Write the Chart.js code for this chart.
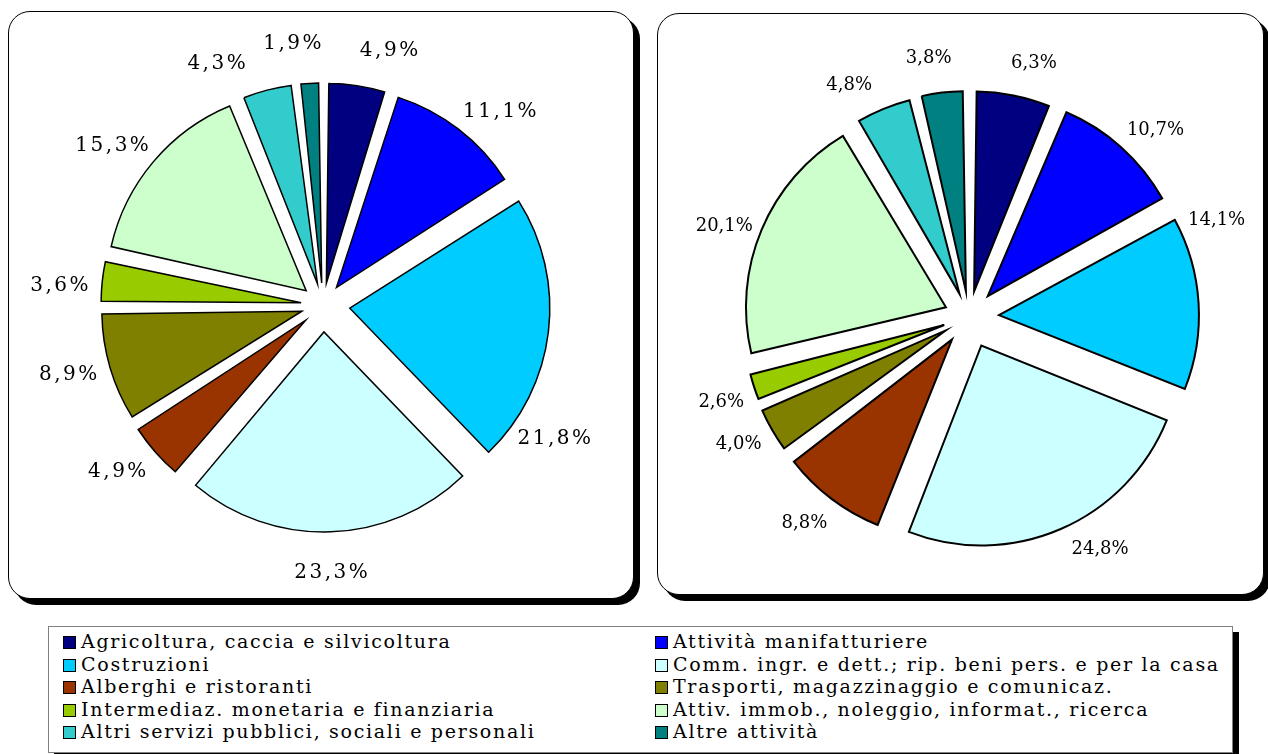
<!DOCTYPE html>
<html>
<head>
<meta charset="utf-8">
<script src="https://cdn.jsdelivr.net/npm/chart.js@4"></script>
<style>
  body { margin: 0; background: #fff; width: 1268px; height: 754px; overflow: hidden; position: relative; font-family: "DejaVu Serif", serif; }
  .box { position: absolute; background: #fff; border: 1.5px solid #000; border-radius: 22px; box-shadow: 6px 6px 0 #000; box-sizing: border-box; }
  canvas { position: absolute; }
  #legend { position: absolute; left: 48px; top: 626px; width: 1185px; height: 127px; border: 1px solid #808080; box-sizing: border-box; background: #fff; box-shadow: 6px 6px 0 #000; }
  .item { position: absolute; font-size: 19px; letter-spacing: 1.7px; line-height: 22px; white-space: nowrap; color: #000; }
  .sw { display: inline-block; width: 11px; height: 11px; border: 1.5px solid #000; margin-right: 5px; vertical-align: -1px; }
</style>
</head>
<body>
<div class="box" style="left:8px; top:11px; width:626px; height:588px;"></div>
<div class="box" style="left:657px; top:13px; width:607px; height:582px;"></div>
<canvas id="pieLeft" width="600" height="580" style="left:23px; top:15px;"></canvas>
<canvas id="pieRight" width="590" height="580" style="left:674px; top:27px;"></canvas>
<div id="legend"></div>

<script>
// Sectors (legend order, clockwise from 12 o'clock)
const sectors = [
  'Agricoltura, caccia e silvicoltura',
  'Attività manifatturiere',
  'Costruzioni',
  'Comm. ingr. e dett.; rip. beni pers. e per la casa',
  'Alberghi e ristoranti',
  'Trasporti, magazzinaggio e comunicaz.',
  'Intermediaz. monetaria e finanziaria',
  'Attiv. immob., noleggio, informat., ricerca',
  'Altri servizi pubblici, sociali e personali',
  'Altre attività'
];

// Percent shares
const leftValues = [4.9, 11.1, 21.8, 23.3, 4.9, 8.9, 3.6, 15.3, 4.3, 1.9];
const rightValues = [6.3, 10.7, 14.1, 24.8, 8.8, 4.0, 2.6, 20.1, 4.8, 3.8];

const colors = ['#000080', '#0000FF', '#00CCFF', '#CCFFFF', '#993300',
                '#808000', '#99CC00', '#CCFFCC', '#33CCCC', '#008080'];

// explode distance of each slice (px) and small label turns (deg)
const leftExplode = [22, 22, 27, 27, 23, 22, 22, 22, 22, 22];
const rightExplode = [26, 28, 30, 31, 28, 27, 26, 25, 25, 26];
const leftTurn = [6, 5, 23, 0, 2, 1, -2, -3, -9, -3];
const rightTurn = [3, 3, -18, -6, 1.5, 1, -1, -2.5, -5, -2];

const RADIUS = 200;

// keep exploded slices at the same radius (Chart.js grows small ones)
const evenRadius = {
  id: 'evenRadius',
  afterDatasetUpdate(chart, args) {
    args.meta.data.forEach((arc) => {
      const t = (arc.options.offset || 0) / 4;
      const fix = 1 - Math.sin(Math.min(Math.PI, arc.circumference));
      arc.outerRadius = RADIUS - t * fix;
    });
  }
};

// percentage labels outside each slice
const outsideLabels = {
  id: 'outsideLabels',
  afterDatasetsDraw(chart, args, opts) {
    const ctx = chart.ctx;
    const meta = chart.getDatasetMeta(0);
    const values = chart.data.datasets[0].data;
    ctx.save();
    ctx.font = opts.font;
    ctx.letterSpacing = opts.spacing;
    ctx.fillStyle = '#000';
    ctx.textAlign = 'center';
    ctx.textBaseline = 'middle';
    meta.data.forEach((arc, i) => {
      const mid = (arc.startAngle + arc.endAngle) / 2 + opts.turn[i] * Math.PI / 180;
      const d = RADIUS + arc.options.offset / 4 + opts.gap;
      const x = arc.x + Math.cos(mid) * d;
      const y = arc.y + Math.sin(mid) * d;
      ctx.fillText(values[i].toFixed(1).replace('.', ',') + '%', x, y);
    });
    ctx.restore();
  }
};

function makePie(id, values, explode, turn, border, labelFont, labelSpacing, gap) {
  new Chart(document.getElementById(id), {
    type: 'pie',
    data: {
      labels: sectors,
      datasets: [{
        data: values,
        backgroundColor: colors,
        borderColor: '#000',
        borderWidth: border,
        borderJoinStyle: 'miter',
        offset: explode.map((e) => e * 4)
      }]
    },
    options: {
      responsive: false,
      animation: false,
      radius: RADIUS,
      plugins: {
        legend: { display: false },
        tooltip: { enabled: false },
        outsideLabels: { font: labelFont, spacing: labelSpacing, turn: turn, gap: gap }
      }
    },
    plugins: [evenRadius, outsideLabels]
  });
}

makePie('pieLeft', leftValues, leftExplode, leftTurn, 1.5, '20px "DejaVu Serif"', '2.5px', 41);
makePie('pieRight', rightValues, rightExplode, rightTurn, 2, '18px "DejaVu Serif"', '0px', 36);

// legend: two columns, five rows
const legend = document.getElementById('legend');
sectors.forEach((name, i) => {
  const col = i % 2, row = Math.floor(i / 2);
  const el = document.createElement('div');
  el.className = 'item';
  el.style.left = (col ? 606 : 14) + 'px';
  el.style.top = (3 + row * 22.5) + 'px';
  el.innerHTML = '<span class="sw" style="background:' + colors[i] + '"></span>' + name;
  legend.appendChild(el);
});
</script>
</body>
</html>
